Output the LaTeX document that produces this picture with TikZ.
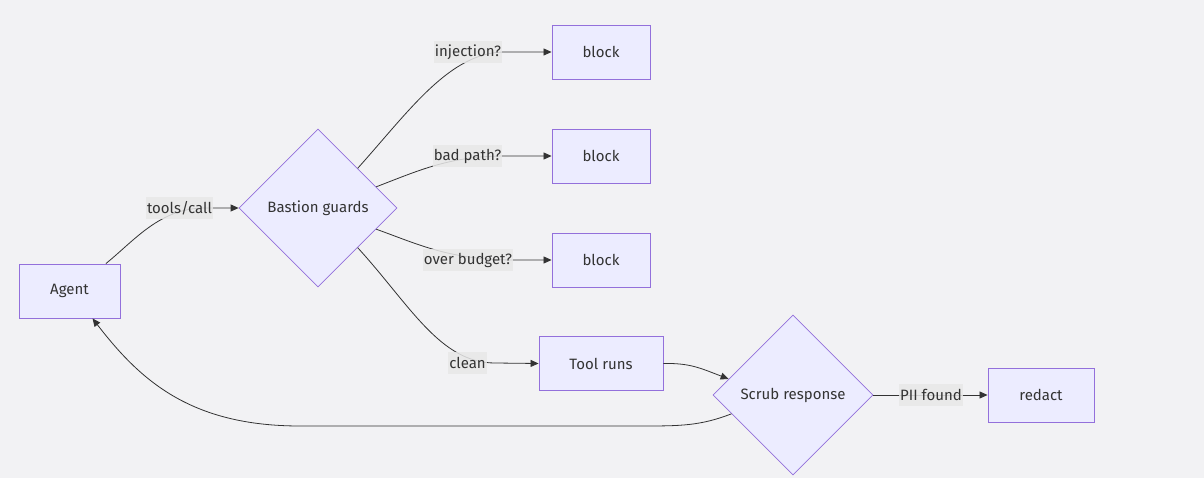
\documentclass[tikz,border=0pt]{standalone}
\usepackage{fontspec}
\setmainfont{Fira Sans}
\usepackage{tikz}
\usetikzlibrary{arrows.meta,shapes.geometric,positioning}
\definecolor{bgcol}{HTML}{F2F2F4}
\definecolor{boxfill}{HTML}{ECECFF}
\definecolor{boxline}{HTML}{9370DB}
\definecolor{inkcol}{HTML}{333333}
\definecolor{lblfill}{HTML}{E8E8E8}

\begin{document}
\begin{tikzpicture}[x=1pt, y=-1pt,
    font=\fontsize{15}{17}\selectfont,
    text=inkcol,
    box/.style={rectangle, draw=boxline, fill=boxfill, line width=0.9pt, minimum height=54pt, inner sep=0pt},
    decide/.style={diamond, aspect=1, draw=boxline, fill=boxfill, line width=0.8pt, minimum size=158pt, inner sep=0pt},
    lbl/.style={fill=lblfill, fill opacity=0.85, text opacity=1, inner xsep=1pt, inner ysep=0pt, minimum height=22pt},
    edge/.style={draw=inkcol, line width=0.8pt, -{Triangle[length=8pt,width=7pt]}}
]

% ---- fondo ----
\fill[bgcol] (0,0) rectangle (1204,478);
\useasboundingbox (0,0) rectangle (1204,478);

% ---- Nodos ----
\node[box, minimum width=101pt] (agent) at (69.5,291) {Agent};
\node[decide] (guard) at (318,208) {Bastion guards};
\node[box, minimum width=98pt] (blk1) at (601,52) {block};
\node[box, minimum width=98pt] (blk2) at (601,156) {block};
\node[box, minimum width=98pt] (blk3) at (601,260) {block};
\node[box, minimum width=124pt] (tool) at (601,363.5) {Tool runs};
\node[decide, minimum size=160pt] (scrub) at (793,395) {Scrub response};
\node[box, minimum width=106pt] (redact) at (1041,395) {redact};

% ---- Aristas ----
\draw[edge] (agent.37) .. controls (135,240) and (160,208) .. (205,208) -- (guard.west);
\draw[edge] (guard.north east) .. controls (410,110) and (450,52) .. (505,52) -- (blk1.west);
\draw[edge] (guard.20) .. controls (420,170) and (450,156) .. (505,156) -- (blk2.west);
\draw[edge] (guard.-20) .. controls (420,245) and (450,260) .. (515,260) -- (blk3.west);
\draw[edge] (guard.south east) .. controls (410,305) and (440,363) .. (495,363) -- (tool.west);
\draw[edge] (tool.east) .. controls (690,363) and (700,368) .. (scrub.166);
\draw[edge] (scrub.east) -- (redact.west);
\coordinate (bendR) at (640,426);
\coordinate (bendL) at (300,426);
\draw[edge] (scrub.197) .. controls (700,426) and (680,426) .. (bendR) -- (bendL)
    .. controls (190,426) and (140,380) .. (agent.-50);

% ---- Etiquetas ----
\node[lbl] (lcall) at (179.5,208) {tools/call};
\node[lbl] (linj) at (468,52) {injection?};
\node[lbl] (lpath) at (467.5,156) {bad path?};
\node[lbl] (lbudget) at (468,260) {over budget?};
\node[lbl] (lclean) at (467.5,363) {clean};
\node[lbl] (lpii) at (931,395) {PII found};

\end{tikzpicture}
\end{document}
